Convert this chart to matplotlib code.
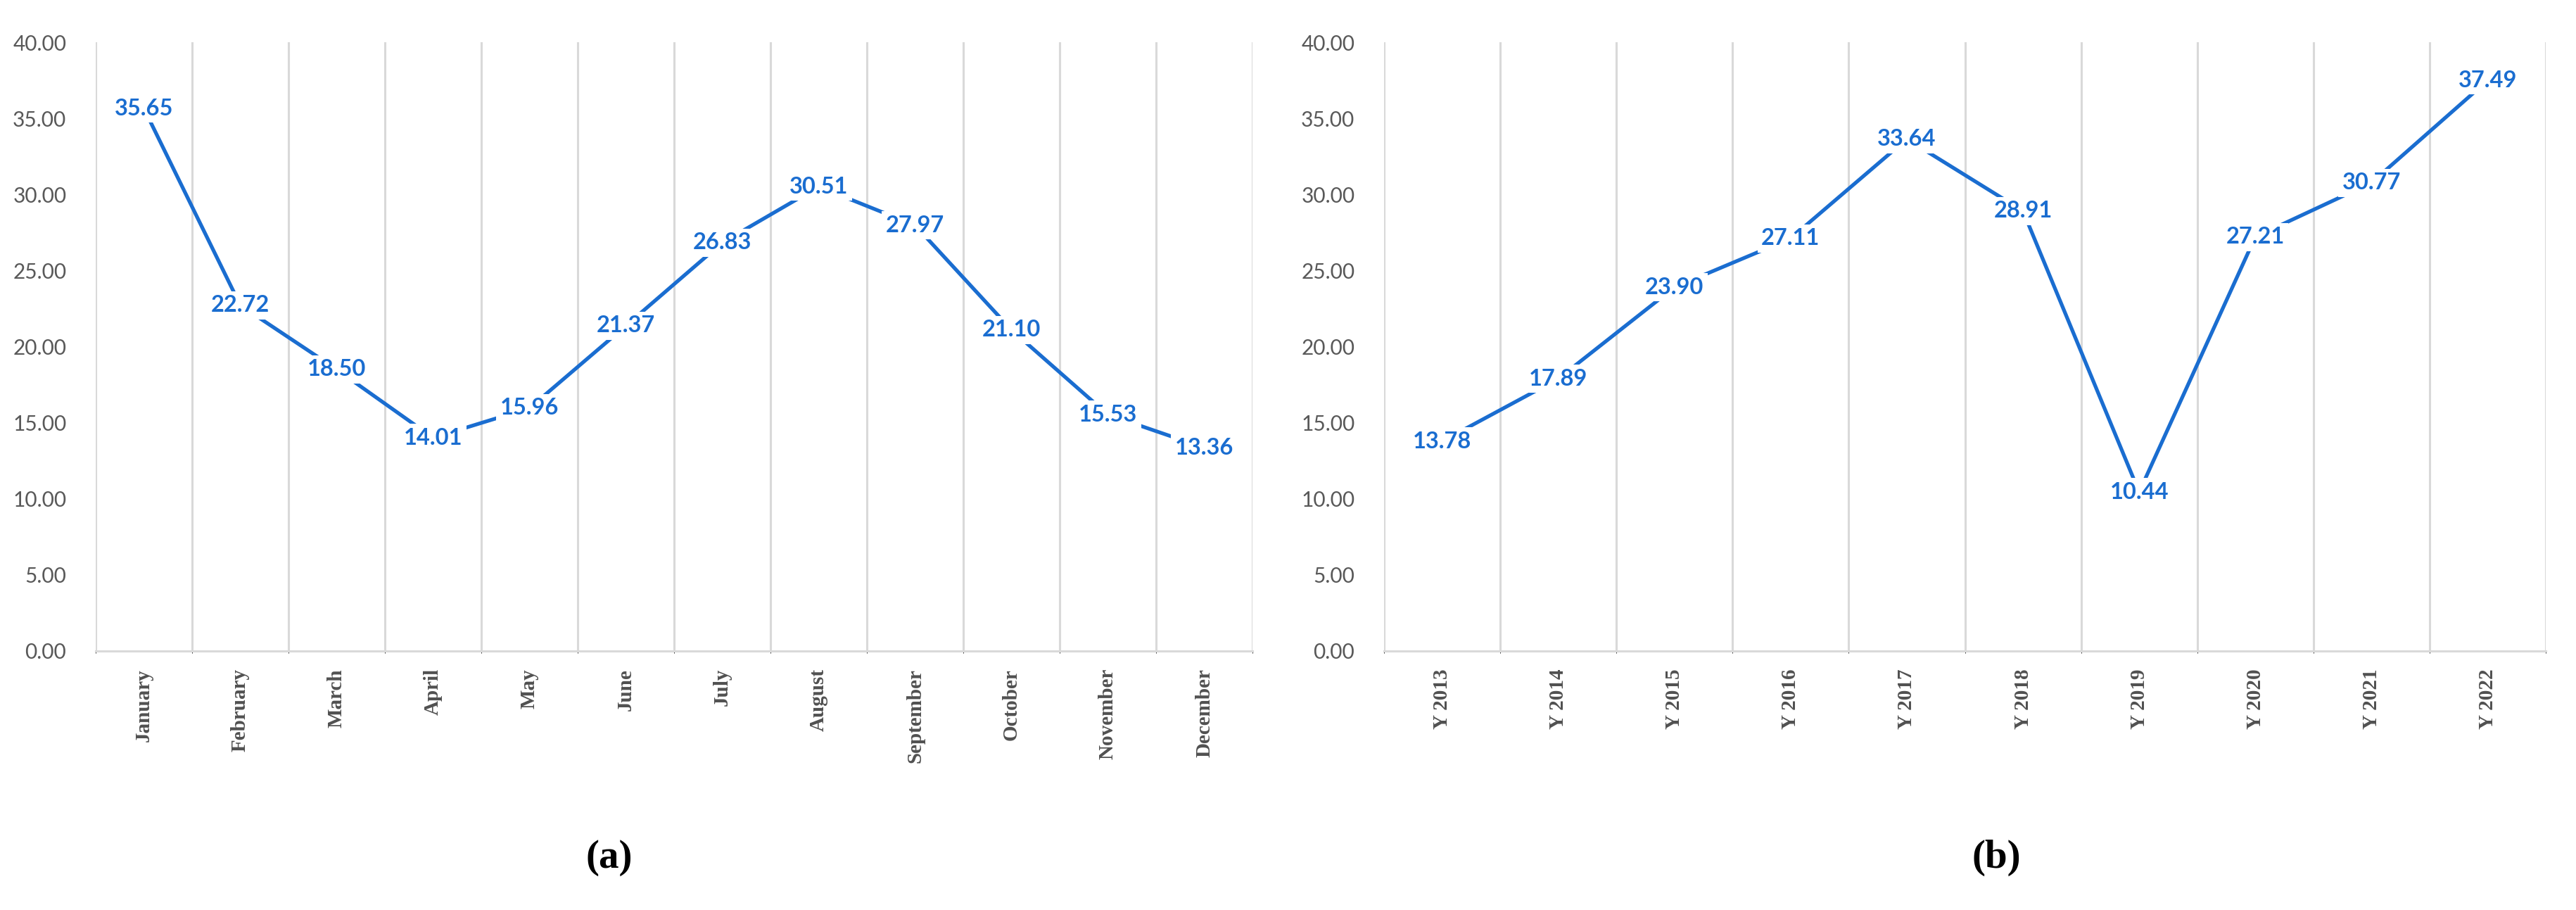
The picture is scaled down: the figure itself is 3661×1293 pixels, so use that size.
import numpy as np
import matplotlib
matplotlib.use("Agg")
import matplotlib.pyplot as plt

months = ["January", "February", "March", "April", "May", "June", "July",
          "August", "September", "October", "November", "December"]
month_vals = [35.65, 22.72, 18.50, 14.01, 15.96, 21.37, 26.83, 30.51, 27.97,
              21.10, 15.53, 13.36]
years = ["Y 2013", "Y 2014", "Y 2015", "Y 2016", "Y 2017", "Y 2018", "Y 2019",
         "Y 2020", "Y 2021", "Y 2022"]
year_vals = [13.78, 17.89, 23.90, 27.11, 33.64, 28.91, 10.44, 27.21, 30.77, 37.49]
yticks = [0, 5, 10, 15, 20, 25, 30, 35, 40]
panel_labels = ["(a)", "(b)"]

W, H = 3661, 1293
fig = plt.figure(figsize=(W / 100, H / 100), dpi=100)

LINE = "#1A6DD0"
GRID = "#D9D9D9"
TICKC = "#595959"

top = 1 - 60 / H
bottom = 1 - 925 / H
axes_boxes = [(136 / W, bottom, (1780 - 136) / W, top - bottom),
              (1967 / W, bottom, (3618 - 1967) / W, top - bottom)]

for box, cats, vals in zip(axes_boxes, [months, years], [month_vals, year_vals]):
    ax = fig.add_axes(box)
    n = len(cats)
    x = np.arange(n) + 0.5
    ax.plot(x, vals, color=LINE, lw=3.8, zorder=2, solid_capstyle="butt")
    for xi, v in zip(x, vals):
        ax.text(xi, v, f"{v:.2f}", ha="center", va="center", color=LINE,
                fontsize=23.5, fontweight="bold", family="Lato", zorder=3,
                bbox=dict(facecolor="white", edgecolor="none", pad=4))
    ax.set_xlim(0, n)
    ax.set_ylim(0, 40)
    ax.set_xticks(x)
    ax.set_xticklabels(cats, rotation=90, ha="center", va="top",
                       family="Liberation Serif", fontweight="bold",
                       fontsize=21, color="#505050")
    ax.set_xticks(np.arange(n + 1), minor=True)
    ax.grid(which="minor", axis="x", color=GRID, lw=2.2)
    ax.grid(which="major", axis="x", visible=False)
    ax.set_yticks(yticks)
    ax.set_yticklabels([f"{t:.2f}" for t in yticks], family="Lato",
                       fontsize=21.5, color=TICKC)
    ax.tick_params(axis="both", length=0)
    ax.tick_params(axis="x", which="major", pad=18)
    ax.tick_params(axis="y", pad=30)
    for s in ["top", "right", "left"]:
        ax.spines[s].set_visible(False)
    ax.spines["bottom"].set_color(GRID)
    ax.spines["bottom"].set_linewidth(2.2)

fig.text(866 / W, 1 - 1219 / H, panel_labels[0], ha="center", va="center",
         family="Liberation Serif", fontweight="bold", fontsize=41)
fig.text(2837 / W, 1 - 1219 / H, panel_labels[1], ha="center", va="center",
         family="Liberation Serif", fontweight="bold", fontsize=41)

fig.savefig("out.png", dpi=100, facecolor="white")
